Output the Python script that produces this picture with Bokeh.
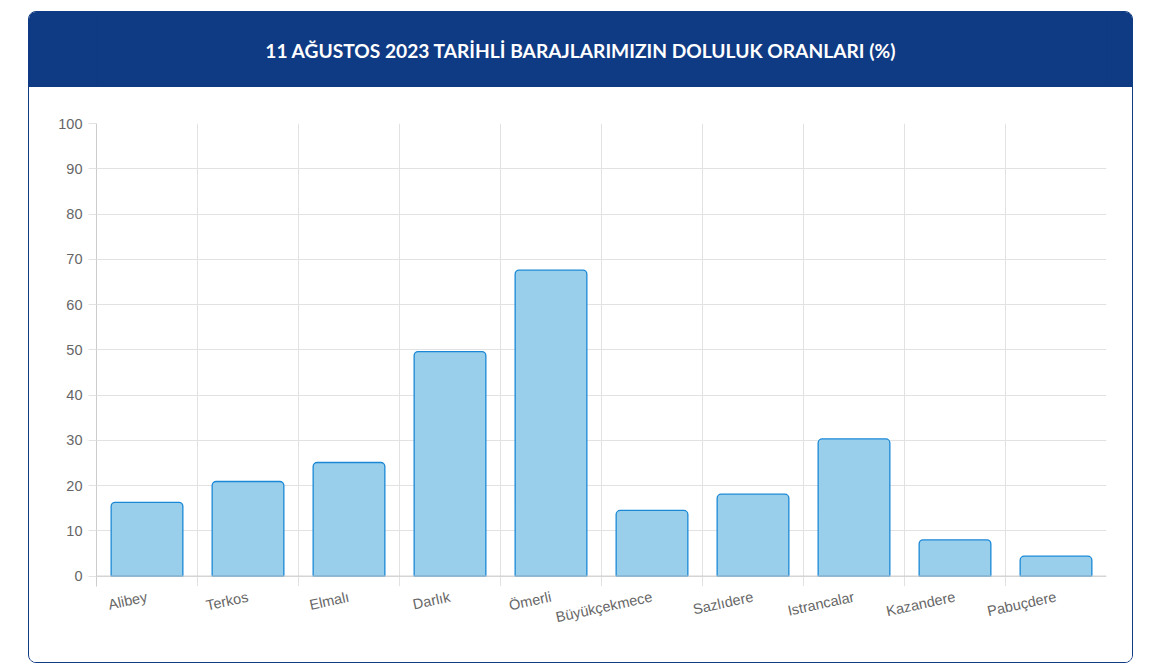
import numpy as np
from bokeh.plotting import figure
from bokeh.models import Range1d, FixedTicker, Span, Label
from bokeh.layouts import column
from bokeh.embed import file_html
from bokeh.resources import INLINE

title_text = "11 AĞUSTOS 2023 TARİHLİ BARAJLARIMIZIN DOLULUK ORANLARI (%)"
dams = ["Alibey", "Terkos", "Elmalı", "Darlık", "Ömerli", "Büyükçekmece",
        "Sazlıdere", "Istrancalar", "Kazandere", "Pabuçdere"]
fill_rates = [16.3, 20.9, 25.1, 49.6, 67.6, 14.5, 18.1, 30.3, 8.0, 4.4]
y_ticks = list(range(0, 101, 10))

HEADER = "#0F3A84"
CARD_W = 1103
ML, MR = 67, 26  # frame borders inside the card

# header strip
header = figure(width=CARD_W, height=75, x_range=Range1d(0, 1), y_range=Range1d(0, 1),
                toolbar_location=None, output_backend="svg", min_border=0,
                styles={"background-color": HEADER})
header.axis.visible = False
header.grid.visible = False
header.outline_line_color = None
header.background_fill_color = None
header.border_fill_color = HEADER
title_x = (CARD_W / 2 - ML) / (CARD_W - ML - MR)
header.add_layout(Label(x=title_x, y=0.5, text=title_text, text_align="center",
                        text_baseline="middle", text_color="white",
                        text_font="Lato", text_font_style="bold",
                        text_font_size="19.2px"))

# main chart
n = len(dams)
xs = np.arange(n) + 0.5
p = figure(width=CARD_W, height=575, x_range=Range1d(0, n), y_range=Range1d(-2.3, 100),
           toolbar_location=None, output_backend="svg",
           min_border_left=ML, min_border_right=MR, min_border_top=36, min_border_bottom=76)
p.outline_line_color = None
p.background_fill_color = "white"
p.border_fill_color = "white"

p.vbar(x=xs, top=fill_rates, bottom=0, width=0.71,
       fill_color="#9ACFEC", line_color="#1A88D6", line_width=1.3,
       border_radius=(4, 4, 0, 0))

p.add_layout(Span(location=0, dimension="width", line_color="#cccccc", line_width=1))

p.xaxis.ticker = FixedTicker(ticks=list(xs))
p.xaxis.major_label_overrides = {float(x): d for x, d in zip(xs, dams)}
p.xaxis.major_label_orientation = 0.215
p.xaxis.axis_line_color = None
p.xaxis.major_tick_line_color = None
p.xaxis.minor_tick_line_color = None
p.xaxis.major_label_standoff = 4
p.xaxis.major_label_text_font = "Liberation Sans"
p.xaxis.major_label_text_font_size = "14.5px"
p.xaxis.major_label_text_color = "#666666"

p.yaxis.ticker = FixedTicker(ticks=y_ticks)
p.yaxis.axis_line_color = "#cccccc"
p.yaxis.major_tick_line_color = "#e2e2e2"
p.yaxis.major_tick_out = 8
p.yaxis.major_tick_in = 0
p.yaxis.minor_tick_line_color = None
p.yaxis.major_label_standoff = 6
p.yaxis.major_label_text_font = "Liberation Sans"
p.yaxis.major_label_text_font_size = "14.5px"
p.yaxis.major_label_text_color = "#666666"

p.xgrid.ticker = FixedTicker(ticks=list(range(0, n + 1)))
p.xgrid.grid_line_color = "#e2e2e2"
p.ygrid.ticker = FixedTicker(ticks=y_ticks)
p.ygrid.grid_line_color = "#e2e2e2"

layout = column(header, p, spacing=0, margin=(11, 0, 0, 28),
                styles={"border": "1px solid " + HEADER, "border-radius": "8px",
                        "overflow": "hidden"})

open("out.html", "w").write(file_html(layout, INLINE))
